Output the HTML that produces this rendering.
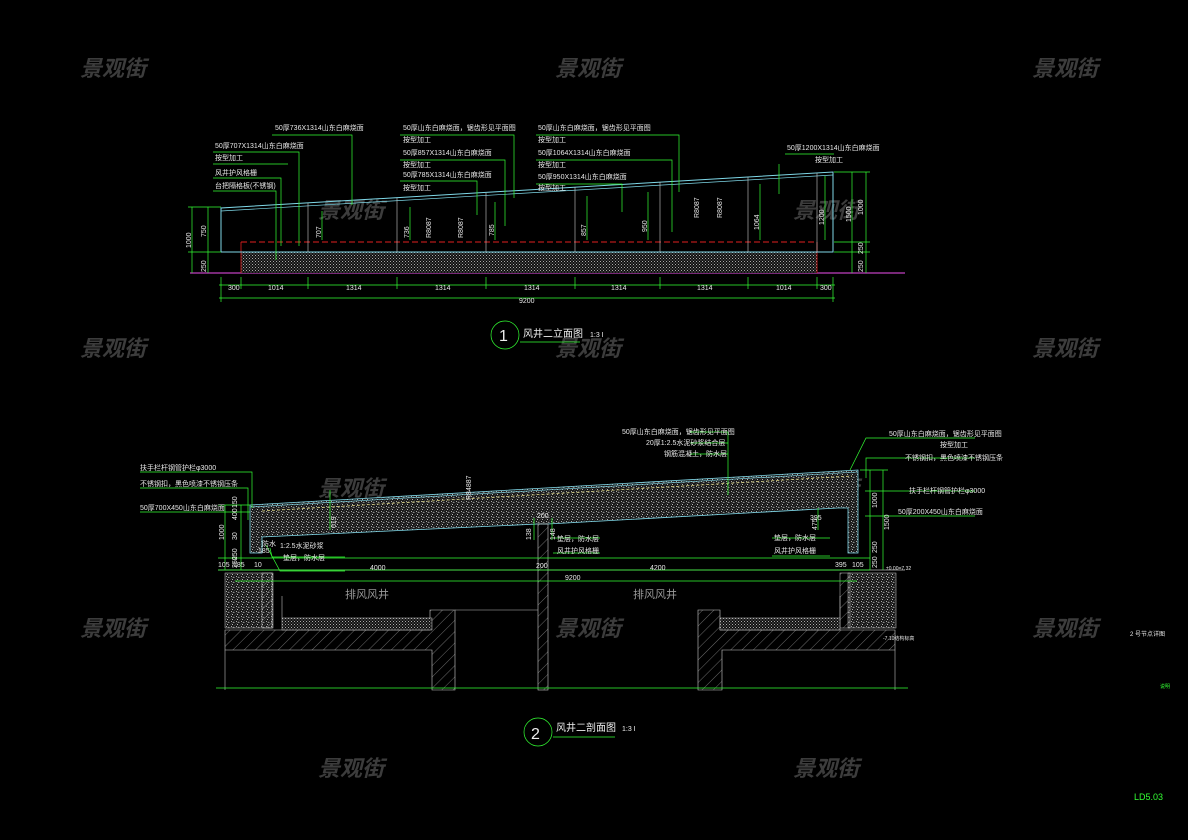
<!DOCTYPE html>
<html><head><meta charset="utf-8"><style>
html,body{margin:0;padding:0;background:#000;}
svg{display:block;}
text{font-family:"Liberation Sans","Noto Sans CJK SC",sans-serif;}
.t{fill:#e8e8e8;font-size:7px;}
.wm{fill:#3c3c3c;font-size:22px;font-weight:bold;font-style:italic;font-family:"Noto Sans CJK SC",sans-serif;}
</style></head><body>
<svg width="1188" height="840" viewBox="0 0 1188 840" xmlns="http://www.w3.org/2000/svg">
<defs>
<pattern id="dots" width="3" height="3" patternUnits="userSpaceOnUse"><rect width="3" height="3" fill="#111"/><rect x="0" y="0" width="1" height="1" fill="#aaa"/><rect x="1.5" y="1.5" width="1" height="1" fill="#888"/></pattern>
<pattern id="hatch" width="8" height="8" patternUnits="userSpaceOnUse" patternTransform="rotate(45)"><line x1="0" y1="0" x2="0" y2="8" stroke="#888" stroke-width="0.8"/></pattern>
<pattern id="conc" width="5" height="5" patternUnits="userSpaceOnUse"><rect width="5" height="5" fill="#1a1a1a"/><rect x="1" y="1" width="1" height="1" fill="#aaa"/><rect x="3" y="2" width="1.5" height="1" fill="#888"/><rect x="2" y="4" width="1" height="1" fill="#bbb"/><line x1="0" y1="5" x2="5" y2="0" stroke="#555" stroke-width="0.5"/></pattern>
</defs>
<rect width="1188" height="840" fill="#000"/>
<g class="wm">
<text x="80" y="76">景观街</text><text x="555" y="76">景观街</text><text x="1032" y="76">景观街</text>
<text x="318" y="218">景观街</text><text x="793" y="218">景观街</text>
<text x="80" y="356">景观街</text><text x="555" y="356">景观街</text><text x="1032" y="356">景观街</text>
<text x="318" y="496">景观街</text><text x="793" y="496">景观街</text>
<text x="80" y="636">景观街</text><text x="555" y="636">景观街</text><text x="1032" y="636">景观街</text>
<text x="318" y="776">景观街</text><text x="793" y="776">景观街</text>
</g>

<!-- ===== TOP ELEVATION ===== -->
<line x1="190" y1="273" x2="905" y2="273" stroke="#c040c0" stroke-width="1.2"/>
<rect x="241" y="252" width="576" height="21" fill="url(#dots)"/>
<line x1="241" y1="252" x2="817" y2="252" stroke="#ccc" stroke-width="0.6"/>
<line x1="241" y1="242" x2="817" y2="242" stroke="#e02020" stroke-width="1" stroke-dasharray="6,3"/>
<line x1="241" y1="242" x2="241" y2="273" stroke="#e02020" stroke-width="0.8"/>
<line x1="817" y1="242" x2="817" y2="273" stroke="#e02020" stroke-width="0.8"/>
<polyline points="221,252 221,208 833,172 833,252 221,252" fill="none" stroke="#7fd8e8" stroke-width="1"/>
<line x1="221" y1="211" x2="833" y2="175" stroke="#7fd8e8" stroke-width="0.7"/>
<g stroke="#ccc" stroke-width="0.6">
<line x1="308" y1="203" x2="308" y2="252"/><line x1="397" y1="198" x2="397" y2="252"/>
<line x1="486" y1="193" x2="486" y2="252"/><line x1="575" y1="187" x2="575" y2="252"/>
<line x1="660" y1="182" x2="660" y2="252"/><line x1="748" y1="177" x2="748" y2="252"/>
<line x1="817" y1="173" x2="817" y2="252"/>
</g>
<g stroke="#3f3" stroke-width="0.7" fill="none">
<line x1="322" y1="240" x2="322" y2="211"/><line x1="410" y1="240" x2="410" y2="207"/><line x1="495" y1="240" x2="495" y2="202"/>
<line x1="587" y1="240" x2="587" y2="196"/><line x1="648" y1="240" x2="648" y2="192"/><line x1="760" y1="240" x2="760" y2="184"/>
<line x1="825" y1="240" x2="825" y2="176"/>
<polyline points="272,135 352,135 352,205"/><polyline points="213,152 299,152 299,246"/><polyline points="213,164 288,164"/>
<polyline points="213,178 281,178 281,246"/><polyline points="213,191 276,191 276,260"/>
<polyline points="400,135 514,135 514,198"/><polyline points="400,160 505,160 505,226"/><polyline points="400,181 477,181 477,215"/>
<polyline points="536,135 679,135 679,192"/><polyline points="536,160 672,160 672,232"/><polyline points="536,184 622,184 622,212"/>
<polyline points="785,154 834,154"/><line x1="779" y1="164" x2="779" y2="194"/>
<line x1="192" y1="207" x2="192" y2="273"/><line x1="208" y1="207" x2="208" y2="273"/><line x1="188" y1="207" x2="221" y2="207"/><line x1="188" y1="252" x2="221" y2="252"/>
<line x1="852" y1="172" x2="852" y2="273"/><line x1="866" y1="172" x2="866" y2="273"/><line x1="834" y1="172" x2="870" y2="172"/><line x1="834" y1="242" x2="870" y2="242"/><line x1="834" y1="252" x2="870" y2="252"/>
<line x1="219" y1="285" x2="835" y2="285"/><line x1="219" y1="298" x2="835" y2="298"/>
<line x1="221" y1="277" x2="221" y2="302"/><line x1="241" y1="277" x2="241" y2="289"/><line x1="308" y1="277" x2="308" y2="289"/><line x1="397" y1="277" x2="397" y2="289"/><line x1="486" y1="277" x2="486" y2="289"/><line x1="575" y1="277" x2="575" y2="289"/><line x1="660" y1="277" x2="660" y2="289"/><line x1="748" y1="277" x2="748" y2="289"/><line x1="817" y1="277" x2="817" y2="289"/><line x1="833" y1="277" x2="833" y2="302"/>
<circle cx="505" cy="335" r="14"/><line x1="520" y1="342" x2="580" y2="342"/>
</g>
<g class="t" font-size="6">
<text x="228" y="290">300</text><text x="268" y="290">1014</text><text x="346" y="290">1314</text><text x="435" y="290">1314</text><text x="524" y="290">1314</text><text x="611" y="290">1314</text><text x="697" y="290">1314</text><text x="776" y="290">1014</text><text x="820" y="290">300</text>
<text x="519" y="303">9200</text>
<text transform="translate(191,248) rotate(-90)">1000</text><text transform="translate(206,237) rotate(-90)">750</text><text transform="translate(206,272) rotate(-90)">250</text>
<text transform="translate(851,222) rotate(-90)">1500</text><text transform="translate(863,215) rotate(-90)">1000</text><text transform="translate(863,254) rotate(-90)">250</text><text transform="translate(863,272) rotate(-90)">250</text>
<text transform="translate(321,238) rotate(-90)">707</text><text transform="translate(409,238) rotate(-90)">736</text><text transform="translate(494,236) rotate(-90)">785</text><text transform="translate(586,236) rotate(-90)">857</text><text transform="translate(647,232) rotate(-90)">950</text><text transform="translate(759,230) rotate(-90)">1064</text><text transform="translate(824,225) rotate(-90)">1200</text>
<text transform="translate(431,238) rotate(-90)">R8087</text><text transform="translate(463,238) rotate(-90)">R8087</text><text transform="translate(699,218) rotate(-90)">R8087</text><text transform="translate(722,218) rotate(-90)">R8087</text>
<text x="275" y="130">50厚736X1314山东白麻烧面</text>
<text x="215" y="148">50厚707X1314山东白麻烧面</text><text x="215" y="160">按型加工</text><text x="215" y="175">风井护风格栅</text><text x="215" y="188">台把隔格板(不锈钢)</text>
<text x="403" y="130">50厚山东白麻烧面，锯齿形见平面图</text><text x="403" y="142">按型加工</text><text x="403" y="155">50厚857X1314山东白麻烧面</text><text x="403" y="167">按型加工</text><text x="403" y="177">50厚785X1314山东白麻烧面</text><text x="403" y="190">按型加工</text>
<text x="538" y="130">50厚山东白麻烧面，锯齿形见平面图</text><text x="538" y="142">按型加工</text><text x="538" y="155">50厚1064X1314山东白麻烧面</text><text x="538" y="167">按型加工</text><text x="538" y="179">50厚950X1314山东白麻烧面</text><text x="538" y="190">按型加工</text>
<text x="787" y="150">50厚1200X1314山东白麻烧面</text><text x="815" y="162">按型加工</text>
</g>
<text x="499" y="341" fill="#eee" font-size="16">1</text>
<text x="523" y="337" fill="#eee" font-size="10" font-family="Noto Sans CJK SC,sans-serif">风井二立面图</text>
<text x="590" y="337" fill="#eee" font-size="7">1:3 I</text>

<!-- ===== BOTTOM SECTION ===== -->
<polygon points="250,505 858,470 858,553 848,553 848,508 838,508 548,524 538,524 262,537 262,553 250,553" fill="url(#conc)" stroke="#7fd8e8" stroke-width="0.8"/>
<line x1="262" y1="511" x2="852" y2="476" stroke="#d8d080" stroke-width="0.8" stroke-dasharray="3,2"/>
<line x1="250" y1="507" x2="858" y2="472" stroke="#7fd8e8" stroke-width="0.6"/>
<rect x="538" y="524" width="10" height="166" fill="url(#hatch)" stroke="#ccc" stroke-width="0.6"/>
<rect x="225" y="573" width="48" height="55" fill="url(#conc)" stroke="#ccc" stroke-width="0.5"/>
<rect x="848" y="573" width="48" height="55" fill="url(#conc)" stroke="#ccc" stroke-width="0.5"/>
<rect x="262" y="573" width="10" height="55" fill="url(#hatch)" stroke="#ccc" stroke-width="0.5"/>
<rect x="840" y="573" width="10" height="55" fill="url(#hatch)" stroke="#ccc" stroke-width="0.5"/>
<polygon points="225,630 430,630 430,610 455,610 455,690 432,690 432,650 225,650" fill="url(#hatch)" stroke="#ccc" stroke-width="0.6"/>
<polygon points="895,630 720,630 720,610 698,610 698,690 722,690 722,650 895,650" fill="url(#hatch)" stroke="#ccc" stroke-width="0.6"/>
<rect x="282" y="618" width="150" height="12" fill="url(#dots)" stroke="#ccc" stroke-width="0.5"/>
<rect x="720" y="618" width="120" height="12" fill="url(#dots)" stroke="#ccc" stroke-width="0.5"/>
<g stroke="#bbb" stroke-width="0.6" fill="none">
<line x1="455" y1="610" x2="538" y2="610"/><line x1="225" y1="650" x2="225" y2="690"/><line x1="895" y1="650" x2="895" y2="690"/>
<line x1="282" y1="596" x2="282" y2="618"/><line x1="840" y1="596" x2="840" y2="618"/>
</g>
<line x1="218" y1="570" x2="905" y2="570" stroke="#bbb" stroke-width="0.8"/>
<g stroke="#3f3" stroke-width="0.7" fill="none">
<line x1="216" y1="688" x2="908" y2="688"/>
<line x1="218" y1="558" x2="870" y2="558"/><line x1="218" y1="570" x2="870" y2="570"/><line x1="235" y1="581" x2="857" y2="581"/>
<line x1="241" y1="505" x2="241" y2="570"/><line x1="225" y1="505" x2="225" y2="570"/><line x1="218" y1="505" x2="250" y2="505"/>
<line x1="870" y1="470" x2="870" y2="570"/><line x1="883" y1="470" x2="883" y2="570"/><line x1="860" y1="470" x2="888" y2="470"/>
<polyline points="140,472 252,472 252,508"/><polyline points="140,488 248,488 248,520"/><polyline points="140,512 250,512"/>
<polyline points="270,548 272,557 345,557"/><polyline points="266,545 280,571 345,571"/>
<line x1="330" y1="490" x2="330" y2="530"/><line x1="728" y1="432" x2="728" y2="495"/><polyline points="690,432 728,432"/><polyline points="690,443 728,443"/><polyline points="690,454 728,454"/>
<polyline points="975,438 866,438 850,470"/><polyline points="975,458 866,458 866,478"/>
<polyline points="975,491 865,491"/><polyline points="975,516 865,516"/>
<polyline points="553,538 600,538"/><polyline points="553,553 600,553"/><polyline points="772,538 830,538"/><polyline points="772,556 830,556"/>
<line x1="534" y1="518" x2="534" y2="540"/><line x1="552" y1="518" x2="552" y2="540"/><line x1="818" y1="508" x2="818" y2="530"/>
<circle cx="538" cy="732" r="14"/><line x1="553" y1="737" x2="615" y2="737"/>
</g>
<g class="t" font-size="6">
<text x="370" y="570" >4000</text><text x="650" y="570">4200</text><text x="536" y="568">200</text><text x="565" y="580">9200</text>
<text x="218" y="567">105</text><text x="233" y="567">185</text><text x="254" y="567">10</text><text x="835" y="567">395</text><text x="852" y="567">105</text>
<text x="537" y="518">200</text><text x="810" y="520">395</text><text x="258" y="553">185</text>
<text transform="translate(224,540) rotate(-90)">1000</text><text transform="translate(237,520) rotate(-90)">400</text><text transform="translate(237,540) rotate(-90)">30</text><text transform="translate(237,560) rotate(-90)">250</text><text transform="translate(237,568) rotate(-90)">250</text><text transform="translate(237,508) rotate(-90)">150</text>
<text transform="translate(877,508) rotate(-90)">1000</text><text transform="translate(889,530) rotate(-90)">1500</text><text transform="translate(877,553) rotate(-90)">250</text><text transform="translate(877,568) rotate(-90)">250</text>
<text transform="translate(817,530) rotate(-90)">475</text><text transform="translate(336,528) rotate(-90)">619</text><text transform="translate(531,540) rotate(-90)">138</text><text transform="translate(555,540) rotate(-90)">148</text>
<text transform="translate(471,500) rotate(-90)">R84887</text>
<text x="140" y="470">扶手栏杆钢管护栏φ3000</text><text x="140" y="486">不锈钢扣，黑色喷漆不锈钢压条</text><text x="140" y="510">50厚700X450山东白麻烧面</text>
<text x="280" y="548">1:2.5水泥砂浆</text><text x="283" y="560">垫层，防水层</text><text x="262" y="546">防水</text>
<text x="622" y="434">50厚山东白麻烧面，锯齿形见平面图</text><text x="646" y="445">20厚1:2.5水泥砂浆结合层</text><text x="664" y="456">钢筋混凝土，防水层</text>
<text x="889" y="436">50厚山东白麻烧面，锯齿形见平面图</text><text x="940" y="447">按型加工</text><text x="905" y="460">不锈钢扣，黑色喷漆不锈钢压条</text>
<text x="909" y="493">扶手栏杆钢管护栏φ3000</text><text x="898" y="514">50厚200X450山东白麻烧面</text>
<text x="557" y="541">垫层，防水层</text><text x="557" y="553">风井护风格栅</text><text x="774" y="540">垫层，防水层</text><text x="774" y="553">风井护风格栅</text>
<text x="886" y="570" font-size="5">±0.00=7.32</text><text x="883" y="640" font-size="5">-7.10结构标高</text>
<text x="1130" y="636" font-size="6">2 号节点详图</text>
</g>
<text x="345" y="598" fill="#999" font-size="11" font-family="Noto Sans CJK SC,sans-serif">排风风井</text>
<text x="633" y="598" fill="#999" font-size="11" font-family="Noto Sans CJK SC,sans-serif">排风风井</text>
<text x="531" y="739" fill="#eee" font-size="16">2</text>
<text x="556" y="731" fill="#eee" font-size="10" font-family="Noto Sans CJK SC,sans-serif">风井二剖面图</text>
<text x="622" y="731" fill="#eee" font-size="7">1:3 I</text>
<text x="1160" y="688" fill="#3f3" font-size="5">说明</text>
<text x="1134" y="800" fill="#3f3" font-size="9">LD5.03</text>
</svg>
</body></html>
